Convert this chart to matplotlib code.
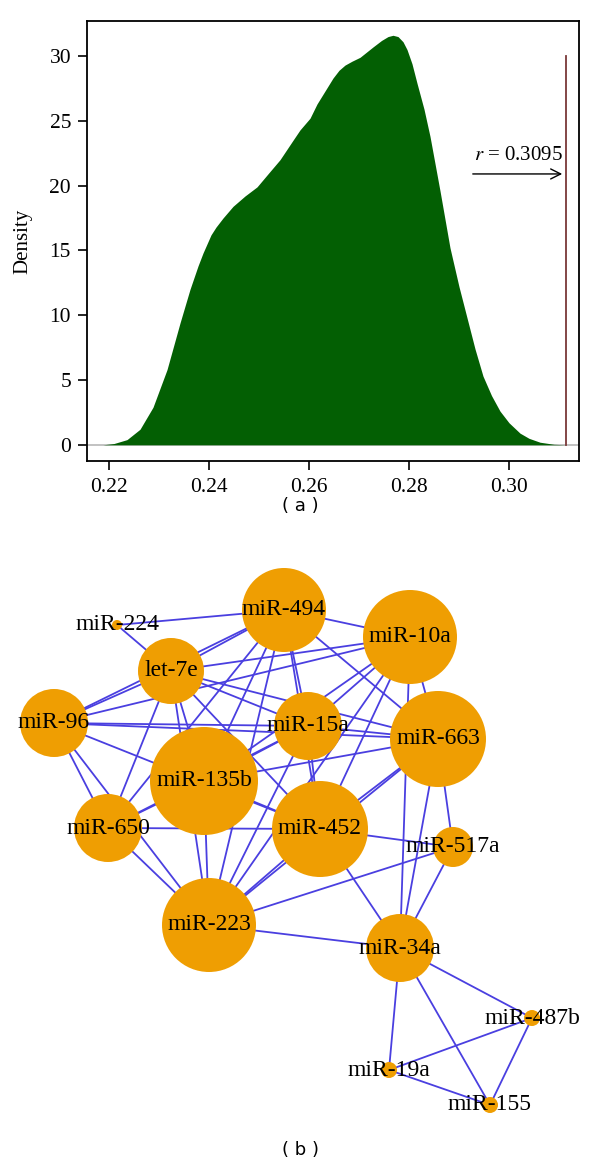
import numpy as np
import matplotlib.pyplot as plt
from matplotlib.patches import Circle

plt.rcParams['mathtext.fontset'] = 'stix'

# density of the permutation correlations
dens_x = [0.2188, 0.2210, 0.2236, 0.2262, 0.2288, 0.2316, 0.2342, 0.2362, 0.2378,
          0.2388, 0.2396, 0.2404, 0.2414, 0.2428, 0.2448, 0.2472, 0.2496, 0.2520,
          0.2542, 0.2568, 0.2582, 0.2602, 0.2616, 0.2632, 0.2648, 0.2660, 0.2672,
          0.2686, 0.2702, 0.2728, 0.2745, 0.2758, 0.2768, 0.2778, 0.2788, 0.2796,
          0.2806, 0.2816, 0.2830, 0.2842, 0.2862, 0.2882, 0.2900, 0.2916, 0.2932,
          0.2948, 0.2965, 0.2982, 0.3000, 0.3022, 0.3040, 0.3062, 0.3090, 0.3114]
dens_y = [0.0, 0.1, 0.4, 1.2, 2.9, 5.8, 9.4, 12.0, 13.8,
          14.8, 15.5, 16.2, 16.8, 17.5, 18.4, 19.2, 19.9, 21.0,
          22.0, 23.5, 24.3, 25.2, 26.3, 27.3, 28.3, 28.9, 29.3,
          29.6, 29.9, 30.7, 31.2, 31.5, 31.6, 31.5, 31.1, 30.5,
          29.4, 27.9, 25.9, 23.8, 19.6, 15.2, 12.2, 9.8, 7.4,
          5.3, 3.8, 2.6, 1.7, 0.9, 0.5, 0.2, 0.04, 0.0]
r_obs = 0.3114
xticks = [0.22, 0.24, 0.26, 0.28, 0.30]
yticks = [0, 5, 10, 15, 20, 25, 30]

# network: node name, x, y, radius (pixel units of the panel)
node_names = ['miR-224', 'miR-494', 'miR-10a', 'let-7e', 'miR-96', 'miR-15a',
              'miR-663', 'miR-135b', 'miR-650', 'miR-452', 'miR-517a', 'miR-223',
              'miR-34a', 'miR-487b', 'miR-19a', 'miR-155']
node_x = [117, 284, 410, 171, 54, 308, 438, 204, 108, 320, 453, 209, 400, 532, 389, 490]
node_y = [625, 610, 637, 671, 723, 726, 739, 781, 828, 829, 847, 925, 948, 1018, 1070, 1105]
node_r = [5, 42, 47, 33, 34, 34, 48, 54, 34, 48, 20, 47, 34, 8, 8, 8]

edges = [
    ('miR-224', 'miR-494'), ('miR-224', 'let-7e'),
    ('miR-96', 'let-7e'), ('miR-96', 'miR-15a'), ('miR-96', 'miR-663'),
    ('miR-96', 'miR-452'), ('miR-96', 'miR-650'), ('miR-96', 'miR-223'),
    ('miR-96', 'miR-494'), ('miR-96', 'miR-10a'),
    ('let-7e', 'miR-494'), ('let-7e', 'miR-10a'), ('let-7e', 'miR-15a'),
    ('let-7e', 'miR-663'), ('let-7e', 'miR-135b'), ('let-7e', 'miR-452'),
    ('let-7e', 'miR-650'), ('let-7e', 'miR-223'),
    ('miR-494', 'miR-10a'), ('miR-494', 'miR-15a'), ('miR-494', 'miR-663'),
    ('miR-494', 'miR-135b'), ('miR-494', 'miR-452'), ('miR-494', 'miR-650'),
    ('miR-494', 'miR-223'),
    ('miR-10a', 'miR-15a'), ('miR-10a', 'miR-135b'), ('miR-10a', 'miR-452'),
    ('miR-10a', 'miR-663'), ('miR-10a', 'miR-34a'), ('miR-10a', 'miR-223'),
    ('miR-15a', 'miR-663'), ('miR-15a', 'miR-135b'), ('miR-15a', 'miR-452'),
    ('miR-15a', 'miR-223'), ('miR-15a', 'miR-650'),
    ('miR-663', 'miR-135b'), ('miR-663', 'miR-452'), ('miR-663', 'miR-517a'),
    ('miR-663', 'miR-34a'), ('miR-663', 'miR-223'),
    ('miR-135b', 'miR-650'), ('miR-135b', 'miR-223'), ('miR-135b', 'miR-452'),
    ('miR-650', 'miR-223'), ('miR-650', 'miR-452'),
    ('miR-452', 'miR-517a'), ('miR-452', 'miR-34a'), ('miR-452', 'miR-223'),
    ('miR-517a', 'miR-223'), ('miR-517a', 'miR-34a'),
    ('miR-223', 'miR-34a'),
    ('miR-34a', 'miR-487b'), ('miR-34a', 'miR-19a'), ('miR-34a', 'miR-155'),
    ('miR-487b', 'miR-19a'), ('miR-487b', 'miR-155'), ('miR-19a', 'miR-155'),
]

fig = plt.figure(figsize=(6, 11.68), dpi=100)

# ---- panel (a): density
ax = fig.add_axes([0.145, 0.6053, 0.82, 0.3767])
ax.fill_between(dens_x, 0, dens_y, color='#035f03', lw=0, zorder=2)
ax.axhline(0, color='#bdbdbd', lw=1.3, zorder=1)
ax.plot([r_obs, r_obs], [0, 30], color='#7a3838', lw=1.3, zorder=3)
ax.annotate('', xy=(r_obs - 0.0002, 20.9), xytext=(0.2922, 20.9),
            arrowprops=dict(arrowstyle='->', color='black', lw=1.0, mutation_scale=18))
ax.text(0.3020, 21.6, '$r$ = 0.3095', ha='center', va='bottom',
        fontsize=15, family='Liberation Serif')
ax.set_xlim(0.2156, 0.314)
ax.set_ylim(-1.25, 32.7)
ax.set_xticks(xticks)
ax.set_xticklabels(['%.2f' % v for v in xticks])
ax.set_yticks(yticks)
ax.tick_params(direction='out', length=6.5, width=1.2, labelsize=15.5, pad=5,
               top=False, right=False)
ax.tick_params(axis='x', pad=6)
for lab in ax.get_xticklabels() + ax.get_yticklabels():
    lab.set_family('Liberation Serif')
for s in ax.spines.values():
    s.set_linewidth(1.3)
ax.set_ylabel('Density', family='Liberation Serif', fontsize=15)
ax.yaxis.set_label_coords(-0.112, 0.5)

fig.text(0.5, 1 - 506 / 1168, '( a )', ha='center', va='center', fontsize=13,
         family='DejaVu Sans')

# ---- panel (b): network
axn = fig.add_axes([0, 0, 1, 600 / 1168])
axn.set_xlim(0, 600)
axn.set_ylim(1168, 568)
axn.axis('off')

pos = {n: (x, y) for n, x, y in zip(node_names, node_x, node_y)}
for a, b in edges:
    axn.plot([pos[a][0], pos[b][0]], [pos[a][1], pos[b][1]],
             color='#4a3fe0', lw=1.3, zorder=1)
for n, x, y, r in zip(node_names, node_x, node_y, node_r):
    axn.add_patch(Circle((x, y), r, facecolor='#ef9e02', edgecolor='none', zorder=2))
    axn.text(x, y, n, ha='center', va='center', fontsize=17,
             family='Liberation Serif', zorder=3)

fig.text(0.5, 1 - 1150 / 1168, '( b )', ha='center', va='center', fontsize=13,
         family='DejaVu Sans')

fig.savefig('out.png', dpi=100)
